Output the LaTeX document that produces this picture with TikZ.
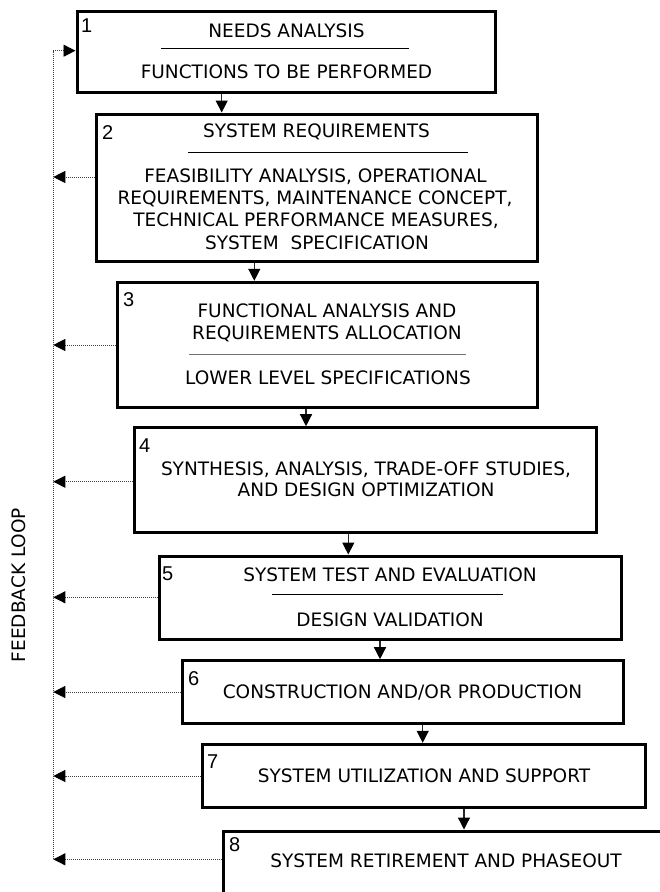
\documentclass[tikz,border=0pt]{standalone}
\usepackage{fontspec}
\setmainfont{DejaVu Sans}
\newfontfamily\numfont{Liberation Sans}
\usetikzlibrary{arrows.meta}

\begin{document}
\begin{tikzpicture}[x=1pt,y=-1pt,
  box/.style={draw=black, line width=3pt, rectangle, inner sep=0pt},
  txt/.style={anchor=base, inner sep=0pt, font=\fontsize{18.5}{22}\selectfont},
  num/.style={anchor=base west, inner sep=0pt, font=\numfont\fontsize{20}{24}\selectfont},
  flow/.style={draw=black!85, line width=1.3pt, -{Triangle[length=12pt,width=12pt,color=black]}},
  fb/.style={draw=black!75, line width=0.9pt, dash pattern=on 1pt off 1pt, -{Triangle[length=12pt,width=12pt,color=black]}},
  fbline/.style={draw=black!75, line width=0.9pt, dash pattern=on 1pt off 1pt},
  sep/.style={draw=black, line width=1pt}
]
\useasboundingbox (0,0) rectangle (660,892);

% process boxes
\node[box, minimum width=418.7pt, minimum height=81.7pt] (b1) at (286.35,51.85) {};
\node[box, minimum width=441pt,   minimum height=147pt]  (b2) at (316.8,187.5) {};
\node[box, minimum width=420.3pt, minimum height=125pt]  (b3) at (327.15,344.8) {};
\node[box, minimum width=462.4pt, minimum height=104.6pt] (b4) at (365.5,480) {};
\node[box, minimum width=462.7pt, minimum height=83pt]   (b5) at (390.35,597.5) {};
\node[box, minimum width=441pt,   minimum height=62.6pt] (b6) at (402.8,692) {};
\node[box, minimum width=442.3pt, minimum height=63pt]   (b7) at (423.85,775.8) {};
\node[box, minimum width=444pt,   minimum height=63pt]   (b8) at (445.7,862.5) {};

% step numbers
\node[num] (n1) at (81,32) {1};
\node[num] (n2) at (102,139) {2};
\node[num] (n3) at (123,306) {3};
\node[num] (n4) at (139,452) {4};
\node[num] (n5) at (162,580) {5};
\node[num] (n6) at (188,685) {6};
\node[num] (n7) at (207,768) {7};
\node[num] (n8) at (229,851) {8};

% box 1
\node[txt] (t1a) at (286.5,37.5) {NEEDS ANALYSIS};
\draw[sep] (161,48.7) -- (409,48.7);
\node[txt] (t1b) at (286.5,78) {FUNCTIONS TO BE PERFORMED};

% box 2
\node[txt] (t2a) at (316.5,137.3) {SYSTEM REQUIREMENTS};
\draw[sep] (188,152.7) -- (468,152.7);
\node[txt] (t2b) at (315.5,182) {FEASIBILITY ANALYSIS, OPERATIONAL};
\node[txt] (t2c) at (315,204) {REQUIREMENTS, MAINTENANCE CONCEPT,};
\node[txt] (t2d) at (316,226.5) {TECHNICAL PERFORMANCE MEASURES,};
\node[txt] (t2e) at (317,249) {SYSTEM\ \ SPECIFICATION};

% box 3
\node[txt] (t3a) at (327,317.7) {FUNCTIONAL ANALYSIS AND};
\node[txt] (t3b) at (327,339.3) {REQUIREMENTS ALLOCATION};
\draw[sep, draw=black!55] (189,354) -- (466,354);
\node[txt] (t3c) at (328,384.3) {LOWER LEVEL SPECIFICATIONS};

% box 4
\node[txt] (t4a) at (366,475) {SYNTHESIS, ANALYSIS, TRADE-OFF STUDIES,};
\node[txt] (t4b) at (366,496.7) {AND DESIGN OPTIMIZATION};

% box 5
\node[txt] (t5a) at (390,581.7) {SYSTEM TEST AND EVALUATION};
\draw[sep] (272,594) -- (503,594);
\node[txt] (t5b) at (390,626) {DESIGN VALIDATION};

% boxes 6-8
\node[txt] (t6) at (402.5,698.3) {CONSTRUCTION AND/OR PRODUCTION};
\node[txt] (t7) at (424,782.7) {SYSTEM UTILIZATION AND SUPPORT};
\node[txt] (t8) at (446,867) {SYSTEM RETIREMENT AND PHASEOUT};

% side label
\node[inner sep=0pt, rotate=90, font=\fontsize{18.5}{22}\selectfont] (lbl) at (18.5,585) {FEEDBACK LOOP};

% forward flow between steps
\coordinate (c12) at (221.7,0);
\coordinate (c23) at (254.3,0);
\coordinate (c34) at (306,0);
\coordinate (c45) at (348.3,0);
\coordinate (c56) at (380,0);
\coordinate (c67) at (422.7,0);
\coordinate (c78) at (464,0);
\draw[flow] (b1.south -| c12) -- (b2.north -| c12);
\draw[flow] (b2.south -| c23) -- (b3.north -| c23);
\draw[flow] (b3.south -| c34) -- (b4.north -| c34);
\draw[flow] (b4.south -| c45) -- (b5.north -| c45);
\draw[flow] (b5.south -| c56) -- (b6.north -| c56);
\draw[flow] (b6.south -| c67) -- (b7.north -| c67);
\draw[flow] (b7.south -| c78) -- (b8.north -| c78);

% feedback loop
\coordinate (lx) at (53.3,0);
\coordinate (f1) at (0,50.7);
\coordinate (f2) at (0,177);
\coordinate (f3) at (0,345);
\coordinate (f4) at (0,481.7);
\coordinate (f5) at (0,597.3);
\coordinate (f6) at (0,692);
\coordinate (f7) at (0,776);
\coordinate (f8) at (0,859.3);
\draw[fbline] (lx |- f8) -- (lx |- f1);
\draw[fb] (lx |- f1) -- (b1.west |- f1);
\draw[fb] (b2.west |- f2) -- (lx |- f2);
\draw[fb] (b3.west |- f3) -- (lx |- f3);
\draw[fb] (b4.west |- f4) -- (lx |- f4);
\draw[fb] (b5.west |- f5) -- (lx |- f5);
\draw[fb] (b6.west |- f6) -- (lx |- f6);
\draw[fb] (b7.west |- f7) -- (lx |- f7);
\draw[fb] (b8.west |- f8) -- (lx |- f8);
\end{tikzpicture}
\end{document}
